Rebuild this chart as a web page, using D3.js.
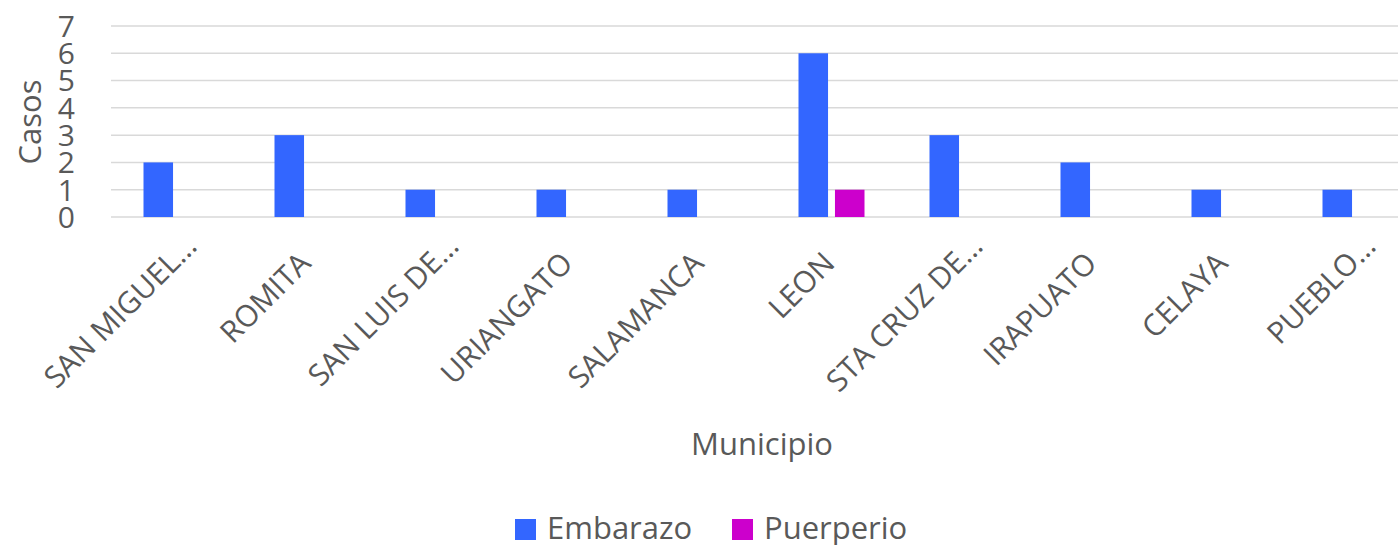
<!DOCTYPE html>
<meta charset="utf-8">
<script src="https://d3js.org/d3.v7.min.js"></script>
<style>
  body { margin: 0; background: #fff; }
  text { font-family: "Open Sans", "Noto Sans", sans-serif; fill: #595959; }
</style>
<div id="chart"></div>
<script>
// data
var municipios = ["SAN MIGUEL…", "ROMITA", "SAN LUIS DE…", "URIANGATO", "SALAMANCA",
                  "LEON", "STA CRUZ DE…", "IRAPUATO", "CELAYA", "PUEBLO…"];
var embarazo  = [2, 3, 1, 1, 1, 6, 3, 2, 1, 1];
var puerperio = [0, 0, 0, 0, 0, 1, 0, 0, 0, 0];
var seriesNames = ["Embarazo", "Puerperio"];
var yTicks = [0, 1, 2, 3, 4, 5, 6, 7];

var colors = {Embarazo: "#3366ff", Puerperio: "#cc00cc"};

var W = 1398, H = 545;
var margin = {top: 26, left: 111, bottom: 328};
var plotW = 1310, plotH = H - margin.top - margin.bottom;

var svg = d3.select("#chart").append("svg")
    .attr("width", W).attr("height", H);

var g = svg.append("g")
    .attr("transform", "translate(" + margin.left + "," + margin.top + ")");

var x = d3.scaleBand().domain(municipios).range([0, plotW]);
var xs = d3.scaleBand().domain(seriesNames)
    .range([x.bandwidth() / 2 - 33, x.bandwidth() / 2 + 33]).paddingInner(0.19);
var y = d3.scaleLinear().domain([0, 7]).range([plotH, 0]);

// gridlines
g.selectAll(".grid").data(yTicks).enter().append("line")
    .attr("x1", 0).attr("x2", plotW)
    .attr("y1", function(d) { return y(d); })
    .attr("y2", function(d) { return y(d); })
    .attr("stroke", "#d9d9d9").attr("stroke-width", 1.5);

// y tick labels
g.selectAll(".ytick").data(yTicks).enter().append("text")
    .attr("x", -36)
    .attr("y", function(d) { return y(d); })
    .attr("dy", "0.36em")
    .attr("text-anchor", "end")
    .style("font-size", "30px")
    .text(function(d) { return d; });

// bars
var rows = municipios.map(function(m, i) {
  return {m: m, vals: [{k: "Embarazo", v: embarazo[i]}, {k: "Puerperio", v: puerperio[i]}]};
});

var grp = g.selectAll(".grp").data(rows).enter().append("g")
    .attr("transform", function(d) { return "translate(" + x(d.m) + ",0)"; });

grp.selectAll("rect").data(function(d) { return d.vals.filter(function(e) { return e.v > 0; }); })
  .enter().append("rect")
    .attr("x", function(d) { return xs(d.k); })
    .attr("width", xs.bandwidth())
    .attr("y", function(d) { return y(d.v); })
    .attr("height", function(d) { return y(0) - y(d.v); })
    .attr("fill", function(d) { return colors[d.k]; });

// category labels (truncated names sit a bit further along their direction)
g.selectAll(".xlab").data(municipios).enter().append("text")
    .attr("transform", function(d) {
      var cx = x(d) + x.bandwidth() / 2 + 5, cy = plotH + 48;
      if (d.slice(-1) === "…") { cx += 17; cy -= 17; }
      return "translate(" + cx + "," + cy + ") rotate(-45)";
    })
    .attr("text-anchor", "end")
    .style("font-size", "30px")
    .text(function(d) { return d; });

// axis titles
svg.append("text")
    .attr("x", 762).attr("y", 455)
    .attr("text-anchor", "middle")
    .style("font-size", "31px")
    .text("Municipio");

svg.append("text")
    .attr("transform", "translate(41,122) rotate(-90)")
    .attr("text-anchor", "middle")
    .style("font-size", "31px")
    .text("Casos");

// legend
var legX = [515, 732];
var leg = svg.selectAll(".leg").data(seriesNames).enter().append("g")
    .attr("transform", function(d, i) { return "translate(" + legX[i] + ",519)"; });
leg.append("rect").attr("width", 21).attr("height", 21)
    .attr("fill", function(d) { return colors[d]; });
leg.append("text").attr("x", 32).attr("y", 20)
    .style("font-size", "31px")
    .text(function(d) { return d; });
</script>
